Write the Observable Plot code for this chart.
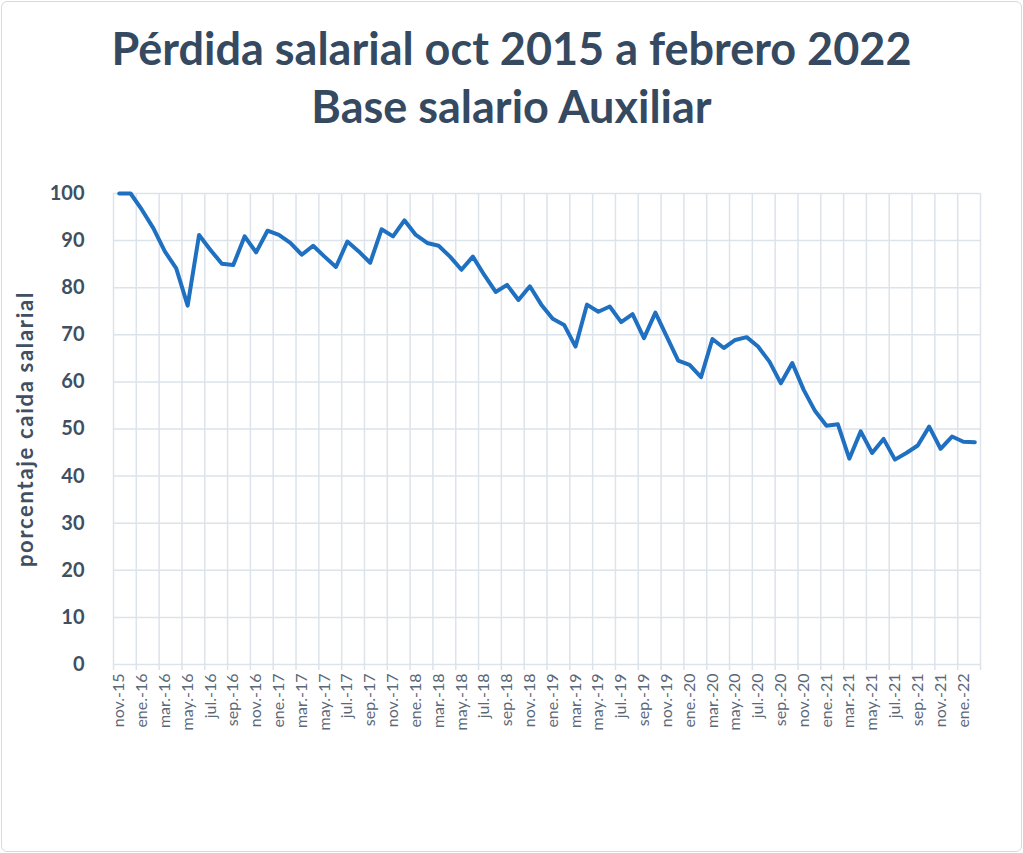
<!DOCTYPE html>
<html>
<head>
<meta charset="utf-8">
<script src="https://cdn.jsdelivr.net/npm/d3@7"></script>
<script src="https://cdn.jsdelivr.net/npm/@observablehq/plot@0.6"></script>
<style>
  html, body { margin: 0; padding: 0; background: #fff; }
  #chart {
    position: relative;
    width: 1019px; height: 849px;
    margin: 1px;
    border: 1px solid #d9d9d9;
    border-radius: 6px;
    overflow: hidden;
    font-family: Lato, "Open Sans", sans-serif;
  }
  #title {
    height: 149px;
    box-sizing: border-box;
    padding-top: 17px;
    text-align: center;
    font-weight: bold;
    font-size: 45px;
    line-height: 58px;
    color: #354a61;
  }
  #chart svg text { font-family: Lato, "Open Sans", sans-serif; }
  #chart svg g[aria-label="y-axis label"] text,
  #chart svg g[aria-label="y-axis label"] {
    font-size: 22px !important;
    letter-spacing: 1.7px;
    font-weight: bold !important;
    fill: #404f61 !important;
  }
</style>
</head>
<body>
<div id="chart">
  <div id="title">Pérdida salarial oct 2015 a febrero 2022<br>Base salario Auxiliar</div>
</div>
<script>
const months = [
  "nov.-15","dic.-15",
  "ene.-16","feb.-16","mar.-16","abr.-16","may.-16","jun.-16","jul.-16","ago.-16","sep.-16","oct.-16","nov.-16","dic.-16",
  "ene.-17","feb.-17","mar.-17","abr.-17","may.-17","jun.-17","jul.-17","ago.-17","sep.-17","oct.-17","nov.-17","dic.-17",
  "ene.-18","feb.-18","mar.-18","abr.-18","may.-18","jun.-18","jul.-18","ago.-18","sep.-18","oct.-18","nov.-18","dic.-18",
  "ene.-19","feb.-19","mar.-19","abr.-19","may.-19","jun.-19","jul.-19","ago.-19","sep.-19","oct.-19","nov.-19","dic.-19",
  "ene.-20","feb.-20","mar.-20","abr.-20","may.-20","jun.-20","jul.-20","ago.-20","sep.-20","oct.-20","nov.-20","dic.-20",
  "ene.-21","feb.-21","mar.-21","abr.-21","may.-21","jun.-21","jul.-21","ago.-21","sep.-21","oct.-21","nov.-21","dic.-21",
  "ene.-22","feb.-22"
];

const values = [
  100, 100,
  96.5, 92.6, 87.7, 84.1, 76.2, 91.2, 88.0, 85.1, 84.8, 90.9, 87.5, 92.1,
  91.2, 89.5, 87.0, 88.9, 86.6, 84.4, 89.8, 87.7, 85.3, 92.4, 90.9, 94.3,
  91.2, 89.5, 88.9, 86.6, 83.8, 86.6, 82.7, 79.1, 80.6, 77.4, 80.3, 76.4,
  73.4, 72.1, 67.5, 76.4, 74.9, 76.0, 72.7, 74.4, 69.3, 74.7, 69.6, 64.5,
  63.6, 61.0, 69.1, 67.2, 68.9, 69.5, 67.5, 64.3, 59.7, 64.0, 58.3, 53.8,
  50.7, 51.0, 43.7, 49.5, 44.9, 47.9, 43.5, 44.9, 46.5, 50.5, 45.8, 48.4,
  47.3, 47.2
];

const yTicks = [0, 10, 20, 30, 40, 50, 60, 70, 80, 90, 100];
const yTitle = "porcentaje caida salarial";

const data = months.map((m, i) => ({i, m, v: values[i]}));
const n = months.length;
// category boundaries every two months (gridlines), and labeled category centers
const boundaries = d3.range(-0.5, n, 2);
const labelTicks = d3.range(0, n, 2);

const gridColor = "#dde3ea";
const textColor = "#404f61";

const plot = Plot.plot({
  width: 1019,
  height: 700,
  marginTop: 42,
  marginBottom: 187,
  marginLeft: 111,
  marginRight: 41,
  style: {background: "transparent", overflow: "visible"},
  x: {type: "linear", domain: [-0.5, n - 0.5], nice: false},
  y: {domain: [0, 100], nice: false},
  marks: [
    Plot.gridY(yTicks, {stroke: gridColor, strokeOpacity: 1, strokeWidth: 1.5}),
    Plot.gridX(boundaries, {stroke: gridColor, strokeOpacity: 1, strokeWidth: 1.5}),
    Plot.axisX(boundaries, {tickSize: 6, tickFormat: () => "", color: gridColor, strokeWidth: 1.5, label: null}),
    Plot.axisX(labelTicks, {
      tickSize: 0, tickPadding: 9, tickRotate: -90,
      tickFormat: i => months[i], fontSize: 16, color: "#5b6878", label: null
    }),
    Plot.axisY(yTicks, {
      tickSize: 0, tickPadding: 29, fontSize: 20, fontWeight: "bold", color: textColor,
      label: yTitle, labelAnchor: "center", labelArrow: "none", labelOffset: 96
    }),
    Plot.line(data, {x: "i", y: "v", stroke: "#1f70c1", strokeWidth: 4, strokeLinejoin: "round", strokeLinecap: "round"})
  ]
});
document.getElementById("chart").appendChild(plot);
</script>
</body>
</html>
